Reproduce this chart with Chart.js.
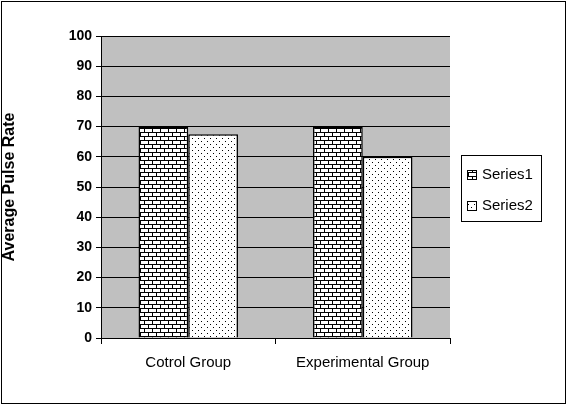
<!DOCTYPE html>
<html><head>
<script src="https://cdn.jsdelivr.net/npm/chart.js@4"></script>
<style>body{margin:0;background:#fff}#wrap{width:567px;height:405px}</style>
</head><body>
<div id="wrap"><canvas id="c" width="567" height="405"></canvas></div>
<script>
const categories = ['Cotrol Group', 'Experimental Group'];
const series1 = [70, 70];
const series2 = [67.5, 60];
const seriesNames = ['Series1', 'Series2'];
const yTicks = [0, 10, 20, 30, 40, 50, 60, 70, 80, 90, 100];

function brick() {
    const c = document.createElement('canvas'); c.width = 8; c.height = 8;
    const g = c.getContext('2d');
    g.fillStyle = '#fff'; g.fillRect(0, 0, 8, 8);
    g.fillStyle = '#000';
    g.fillRect(0, 0, 8, 1); g.fillRect(0, 4, 8, 1);
    g.fillRect(0, 0, 1, 4); g.fillRect(4, 4, 1, 4);
    return document.getElementById('c').getContext('2d').createPattern(c, 'repeat');
}
function dots() {
    const c = document.createElement('canvas'); c.width = 6; c.height = 6;
    const g = c.getContext('2d');
    g.fillStyle = '#fff'; g.fillRect(0, 0, 6, 6);
    g.fillStyle = '#000';
    g.fillRect(0, 0, 1, 1); g.fillRect(3, 3, 1, 1);
    return document.getElementById('c').getContext('2d').createPattern(c, 'repeat');
}
const fills = [brick(), dots()];
const font = { family: 'Arial, "Liberation Sans"', size: 14, weight: 'bold' };

const frame = {
    id: 'frame',
    beforeDraw(ch) {
        const { ctx, chartArea: a } = ch;
        ctx.save();
        ctx.fillStyle = '#fff'; ctx.fillRect(0, 0, ch.width, ch.height);
        ctx.fillStyle = '#c0c0c0'; ctx.fillRect(a.left, a.top, a.right - a.left, a.bottom - a.top);
        ctx.strokeStyle = '#000'; ctx.lineWidth = 1;
        ctx.strokeRect(1.5, 1.5, ch.width - 3, ch.height - 3);
        ctx.restore();
    },
    afterDraw(ch) {
        const ctx = ch.ctx;
        ctx.save();
        ctx.fillStyle = '#fff'; ctx.fillRect(461, 155, 80, 66);
        ctx.strokeStyle = '#000'; ctx.strokeRect(461.5, 155.5, 80, 66);
        ctx.font = '15px Arial, "Liberation Sans"';
        ctx.textBaseline = 'middle';
        seriesNames.forEach((n, i) => {
            const y = 175 + i * 31;
            ctx.fillStyle = fills[i]; ctx.fillRect(467, y - 5, 10, 10);
            ctx.strokeRect(467.5, y - 4.5, 9, 9);
            ctx.fillStyle = '#000'; ctx.fillText(n, 482, y);
        });
        ctx.restore();
    }
};

new Chart(document.getElementById('c'), {
    type: 'bar',
    data: {
        labels: categories,
        datasets: [
            { label: seriesNames[0], data: series1, backgroundColor: fills[0], borderColor: '#000', borderWidth: 1.5 },
            { label: seriesNames[1], data: series2, backgroundColor: fills[1], borderColor: '#000', borderWidth: 1.5 }
        ]
    },
    options: {
        responsive: false, animation: false,
        layout: { padding: { left: 0, top: 36, right: 117, bottom: 0 } },
        categoryPercentage: 0.57, barPercentage: 1,
        plugins: { legend: { display: false }, tooltip: { enabled: false } },
        scales: {
            x: {
                afterFit(s) { s.height = 67; },
                grid: { offset: true, drawOnChartArea: false, color: '#000', tickLength: 6 },
                border: { color: '#000' },
                ticks: { color: '#000', font: { ...font, weight: 'normal', size: 15 }, padding: 10 }
            },
            y: {
                min: 0, max: 100,
                afterFit(s) { s.width = 101; },
                afterBuildTicks(s) { s.ticks = yTicks.map(v => ({ value: v })); },
                grid: { color: '#000', tickLength: 5 },
                border: { color: '#000' },
                ticks: { color: '#000', font: font, padding: 4 },
                title: { display: true, text: 'Average Pulse Rate', color: '#000', font: { ...font, size: 16 }, padding: 0 }
            }
        }
    },
    plugins: [frame]
});
</script>
</body></html>
